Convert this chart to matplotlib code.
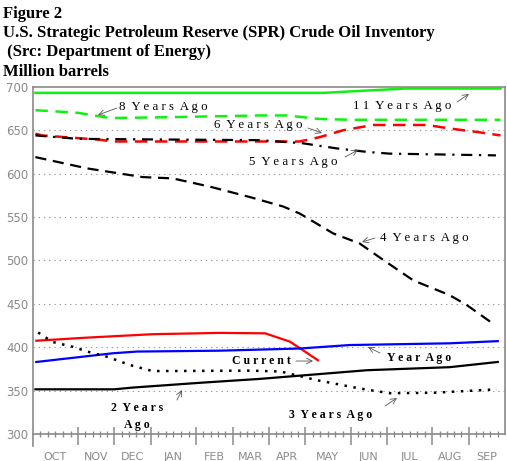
import matplotlib
matplotlib.use("Agg")
import matplotlib.pyplot as plt
import numpy as np

# x positions are weeks since the start of October (52-week year)
month_labels = ["OCT", "NOV", "DEC", "JAN", "FEB", "MAR",
                "APR", "MAY", "JUN", "JUL", "AUG", "SEP"]
month_weeks = [5, 4, 4, 5, 4, 4, 4, 5, 4, 5, 4, 4]

# values (week, million barrels)
yrs11_wk = [0.3, 32.0, 41.0, 51.5]
yrs11_val = [693, 693, 698, 698]

yrs8_wk = [0.3, 2.0, 5.0, 8.5, 15.0, 25.0, 28.0, 31.5, 35.0, 51.5]
yrs8_val = [673, 672, 670, 664, 665, 667, 667, 663, 662, 662]

yrs6_wk = [0.3, 1.0, 7.4, 8.8, 29.4, 31.6, 34.2, 37.5, 43.4, 45.9, 48.9, 51.5]
yrs6_val = [646, 644, 639, 637, 637, 642, 650, 656, 656, 652, 648, 644]

yrs5_wk = [0.3, 5.0, 25.0, 29.7, 33.5, 36.8, 39.3, 51.0]
yrs5_val = [644, 640, 638.5, 635, 629, 625, 623, 621]

yrs4_wk = [0.3, 6.0, 12.1, 15.4, 19.5, 23.9, 27.6, 29.4, 33.1, 36.0, 38.6,
           41.9, 45.9, 47.8, 50.9]
yrs4_val = [619, 606, 596, 594.5, 585, 573, 562, 554, 531, 519.5, 500.5,
            477, 460, 448.5, 425.5]

current_wk = [0.4, 5.9, 13.2, 20.6, 25.6, 28.3, 29.4, 31.4]
current_val = [407.5, 411, 415, 416.5, 416, 406.5, 399, 385]

yr_ago_wk = [0.4, 8.8, 11.5, 20.6, 29.4, 34.9, 45.9, 51.2]
yr_ago_val = [383, 393, 395, 396, 398.5, 402.5, 404.5, 407]

yrs2_wk = [0.3, 9.0, 11.0, 18.4, 25.0, 36.8, 45.9, 51.2]
yrs2_val = [351.5, 351.5, 353.5, 359, 363.5, 373.5, 377, 383]

yrs3_wk = [0.6, 2.2, 4.4, 6.0, 8.2, 10.7, 13.2, 23.9, 27.3, 31.3, 36.0,
           39.3, 44.1, 51.1]
yrs3_val = [417, 406, 400.5, 395, 389, 379.5, 372.5, 373, 372, 362, 352.5,
            347, 347.5, 351.5]

GREEN = "#11f011"
GRAY = "#8a8a8a"
SERIF = ["Liberation Serif", "DejaVu Serif"]


def spaced(s):
    """Wide letter spacing like the original annotations."""
    return " ".join(s).replace("   ", "  ")


fig = plt.figure(figsize=(5.07, 4.61), dpi=100)
ax = fig.add_axes([32.7 / 507, 1 - 446 / 461, (505 - 32.7) / 507, (446 - 86.8) / 461])
ax.set_xlim(0, 52)
ax.set_ylim(286.2, 700)

# title block
title_lines = ["Figure 2",
               "U.S. Strategic Petroleum Reserve (SPR) Crude Oil Inventory",
               " (Src: Department of Energy)",
               "Million barrels"]
for i, line in enumerate(title_lines):
    fig.text(3 / 507, 1 - (14 + 19.2 * i) / 461, line, family=SERIF,
             fontsize=12, fontweight="bold", va="center", ha="left")

# grid
for v in [350, 400, 450, 500, 550, 600, 650]:
    ax.axhline(v, color="#999999", lw=0.8, ls=(0, (1.2, 3.5)), zorder=0)

# series
ax.plot(yrs11_wk, yrs11_val, color=GREEN, lw=1.8)
ax.plot(yrs8_wk, yrs8_val, color=GREEN, lw=1.8, ls=(0, (5, 3)))
ax.plot(yrs6_wk, yrs6_val, color="red", lw=1.8, ls=(0, (5, 3)))
ax.plot(yrs5_wk, yrs5_val, color="black", lw=1.6, ls=(0, (5, 3, 1, 3)))
ax.plot(yrs4_wk, yrs4_val, color="black", lw=1.6, ls=(0, (5, 3)))
ax.plot(current_wk, current_val, color="red", lw=1.6)
ax.plot(yr_ago_wk, yr_ago_val, color="blue", lw=1.6)
ax.plot(yrs2_wk, yrs2_val, color="black", lw=1.6)
ax.plot(yrs3_wk, yrs3_val, color="black", lw=1.8, ls=(0, (1, 2.6)))


def px(x, y):
    """Pixel position in the reference image -> data coordinates."""
    return ((x - 32.7) / (472.3 / 52), 300 + (434 - y) / 0.868)


# annotations: label, text centre, arrow tail, arrow head (pixels)
notes = [
    ("8 Years Ago", (163, 107), (117, 108), (98, 115), "normal", 9.3),
    ("11 Years Ago", (402, 106), (457, 102), (469, 94), "normal", 9.3),
    ("6 Years Ago", (258, 125), (308, 128), (322, 133), "normal", 9.3),
    ("5 Years Ago", (293, 162), (345, 157), (358, 150), "normal", 9.3),
    ("4 Years Ago", (424, 238), (375, 238), (362, 242), "normal", 9.3),
    ("Current", (261, 361), (296, 361), (313, 361), "bold", 8.5),
    ("Year Ago", (419, 358), (380, 353), (368, 347), "bold", 8.5),
    ("3 Years Ago", (331, 415), (385, 406), (397, 398), "bold", 8.5),
]
for label, txy, tail, head, wt, fs in notes:
    ax.text(*px(*txy), spaced(label), family=SERIF, fontsize=fs,
            fontweight=wt, ha="center", va="center")
    ax.annotate("", xy=px(*head), xytext=px(*tail),
                arrowprops=dict(arrowstyle="->", color="#555555", lw=0.6,
                                shrinkA=0, shrinkB=0))

ax.text(*px(137, 408), spaced("2 Years"), family=SERIF, fontsize=8.5,
        fontweight="bold", ha="center", va="center")
ax.text(*px(137, 425), spaced("Ago"), family=SERIF, fontsize=8.5,
        fontweight="bold", ha="center", va="center", zorder=5)
ax.annotate("", xy=px(182, 390), xytext=px(177, 400),
            arrowprops=dict(arrowstyle="->", color="#555555", lw=0.6,
                            shrinkA=0, shrinkB=0))

# frame
for side in ["left", "top", "right"]:
    ax.spines[side].set_color(GRAY)
    ax.spines[side].set_linewidth(1.2)
ax.spines["right"].set_bounds(300, 700)
ax.spines["bottom"].set_visible(False)

# bottom axis line with month / week ticks
ax.plot([0, 52], [300, 300], color=GRAY, lw=1.2, clip_on=False)
bounds = np.concatenate([[0], np.cumsum(month_weeks)])
ax.vlines(bounds[1:-1], 287.3, 308, color=GRAY, lw=1.1)
for a, n in zip(bounds[:-1], month_weeks):
    step = n / (n + 1)
    ax.vlines(a + step * np.arange(1, n + 1), 296.5, 303.5, color=GRAY, lw=1.0)

centers = (bounds[:-1] + bounds[1:]) / 2
ax.set_xticks(centers, month_labels)
ax.set_yticks(np.arange(300, 701, 50))
ax.tick_params(axis="x", length=0, pad=4, labelsize=8, labelcolor=GRAY)
ax.tick_params(axis="y", length=0, pad=3, labelsize=8.5, labelcolor=GRAY)

fig.savefig("out.png", dpi=100, facecolor="white")
